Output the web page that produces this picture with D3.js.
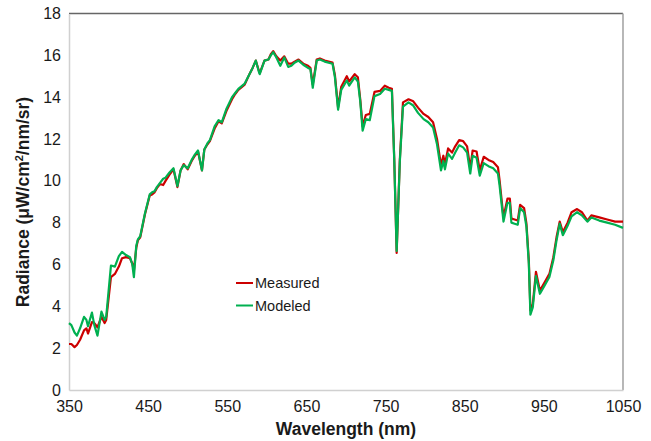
<!DOCTYPE html>
<html>
<head>
<meta charset="utf-8">
<script src="https://cdn.jsdelivr.net/npm/d3@7/dist/d3.min.js"></script>
<style>
  html, body { margin: 0; padding: 0; background: #fff; }
  svg { display: block; font-family: Arial, "Liberation Sans", sans-serif; }
</style>
</head>
<body>
<svg id="chart" width="651" height="441"></svg>
<script>
// Spectral radiance, measured vs. modeled
const wavelengths = [350,353,357,360,364,369,372,374,379,382,386,391,395,397,403,408,413,417,422,427,430,432,435,437,440,446,452,455,458,461,465,469,472,477,482,487,491,495,500,505,509,513,518,521,525,528,534,539,543,549,556,560,564,572,578,582,586,590,591,597,602,605,608,612,617,622,627,631,635,640,646,652,655,658,663,667,673,683,686,690,694,701,704,711,715,718,721,725,730,736,743,749,754,758,761,764,768,772,779,785,791,798,804,810,815,820,823,825,829,834,838,843,848,853,857,860,865,869,874,880,886,892,894,897,899,904,907,909,913,917,920,925,928,931,933,936,940,945,951,957,962,966,970,974,980,985,992,998,1005,1010,1020,1030,1040,1050];
const measured = [2.2,2.2,2.05,2.15,2.4,2.85,2.95,2.7,3.25,3.2,3.0,3.5,3.2,3.35,5.4,5.55,5.9,6.3,6.35,6.3,6.05,5.7,6.8,7.15,7.3,8.4,9.3,9.35,9.45,9.65,9.85,9.8,10.0,10.3,10.55,9.7,10.5,10.8,10.55,10.95,11.2,11.4,10.5,11.5,11.75,11.9,12.5,12.85,12.75,13.35,13.9,14.15,14.35,14.6,15.1,15.4,15.75,15.25,15.15,15.75,15.8,16.05,16.2,15.95,15.75,15.95,15.6,15.6,15.7,15.8,15.6,15.5,15.4,14.6,15.8,15.85,15.75,15.65,15.05,13.5,14.5,15.0,14.75,15.1,14.95,13.9,12.6,13.15,13.2,14.25,14.3,14.55,14.45,14.4,11.0,6.55,11.0,13.75,13.9,13.8,13.5,13.2,13.05,12.8,12.0,10.75,11.2,10.8,11.55,11.35,11.65,11.95,11.9,11.65,10.6,11.45,11.4,10.5,11.15,11.0,10.9,10.65,10.05,8.95,8.25,9.15,9.15,8.2,8.15,8.1,8.85,8.7,7.95,6.2,3.8,4.1,5.65,4.75,5.15,5.55,6.35,7.3,8.05,7.55,8.0,8.5,8.65,8.5,8.1,8.35,8.25,8.15,8.05,8.05];
const modeled = [3.2,3.1,2.75,2.6,2.95,3.5,3.35,3.05,3.7,3.1,2.6,3.75,3.35,3.5,5.95,5.9,6.4,6.6,6.45,6.35,6.0,5.4,6.9,7.2,7.35,8.45,9.35,9.45,9.5,9.7,9.9,10.1,10.15,10.4,10.6,9.75,10.5,10.75,10.6,11.0,11.25,11.45,10.5,11.5,11.8,11.95,12.6,12.9,12.8,13.45,14.0,14.2,14.4,14.65,15.1,15.4,15.75,15.2,15.1,15.75,15.8,16.0,16.15,15.9,15.5,15.9,15.45,15.5,15.65,15.75,15.55,15.4,15.35,14.45,15.75,15.8,15.7,15.6,14.95,13.4,14.35,14.8,14.55,14.95,14.75,13.8,12.4,12.95,12.9,14.05,14.15,14.4,14.35,14.3,10.95,6.65,10.9,13.55,13.75,13.6,13.25,12.95,12.8,12.55,11.75,10.5,10.95,10.55,11.3,11.05,11.35,11.7,11.6,11.35,10.35,11.2,11.1,10.25,10.85,10.7,10.6,10.35,9.8,8.75,8.05,8.95,8.95,8.0,7.95,7.9,8.7,8.5,7.8,6.05,3.6,3.95,5.45,4.6,5.0,5.4,6.2,7.15,7.95,7.4,7.85,8.3,8.5,8.35,8.05,8.25,8.1,8.0,7.9,7.75];
const xTicks = [350,450,550,650,750,850,950,1050];
const yTicks = [0,2,4,6,8,10,12,14,16,18];
const seriesNames = ["Measured","Modeled"];
const seriesColors = ["#cc0000","#00b050"];

const svg = d3.select("#chart");
const m = {left: 69, right: 623, top: 13.5, bottom: 390};

const x = d3.scaleLinear().domain([350,1050]).range([m.left, m.right]);
const y = d3.scaleLinear().domain([0,18]).range([m.bottom, m.top]);

// frame
svg.append("line").attr("x1",m.left).attr("x2",m.right).attr("y1",m.top).attr("y2",m.top)
  .attr("stroke","#666666").attr("stroke-width",1.3);
svg.append("line").attr("x1",m.right).attr("x2",m.right).attr("y1",m.top).attr("y2",m.bottom)
  .attr("stroke","#a6a6a6").attr("stroke-width",1.6);

// axes
const xAxis = svg.append("g").attr("transform",`translate(0,${m.bottom})`)
  .call(d3.axisBottom(x).tickValues(xTicks).tickFormat(d3.format("d")).tickSize(0).tickPadding(11));
const yAxis = svg.append("g").attr("transform",`translate(${m.left},0)`)
  .call(d3.axisLeft(y).tickValues(yTicks).tickFormat(d3.format("d")).tickSize(0).tickPadding(8));
[xAxis, yAxis].forEach(g => {
  g.select(".domain").attr("stroke","#d0d0d0").attr("stroke-width",1.5);
  g.selectAll("text").attr("fill","#1a1a1a").style("font-size","16px")
    .style("font-family","Arial, 'Liberation Sans', sans-serif");
});

// series
const series = [measured, modeled];
const line = d3.line().x((d,i) => x(wavelengths[i])).y(d => y(d));
series.forEach((vals, k) => {
  svg.append("path").datum(vals).attr("d", line)
    .attr("fill","none").attr("stroke",seriesColors[k]).attr("stroke-width",2.2)
    .attr("stroke-linejoin","round");
});

// legend
const lg = svg.append("g").attr("transform","translate(236,283)");
seriesNames.forEach((name,k) => {
  const row = lg.append("g").attr("transform",`translate(0,${k*22.5})`);
  row.append("line").attr("x1",0).attr("x2",17).attr("y1",0).attr("y2",0)
    .attr("stroke",seriesColors[k]).attr("stroke-width",2);
  row.append("text").attr("x",19).attr("y",5).text(name)
    .style("font-size","14.5px").attr("fill","#1a1a1a");
});

// axis titles
svg.append("text").attr("x", (m.left+m.right)/2).attr("y", 435)
  .attr("text-anchor","middle").style("font-size","17.5px").style("font-weight","bold")
  .attr("fill","#1a1a1a").text("Wavelength (nm)");
const yt = svg.append("text").attr("transform","translate(29,202) rotate(-90)")
  .attr("text-anchor","middle").style("font-size","17.5px").style("font-weight","bold")
  .attr("fill","#1a1a1a");
yt.append("tspan").text("Radiance (μW/cm");
yt.append("tspan").attr("dy",-6).style("font-size","11px").text("2");
yt.append("tspan").attr("dy",6).text("/nm/sr)");
</script>
</body>
</html>
